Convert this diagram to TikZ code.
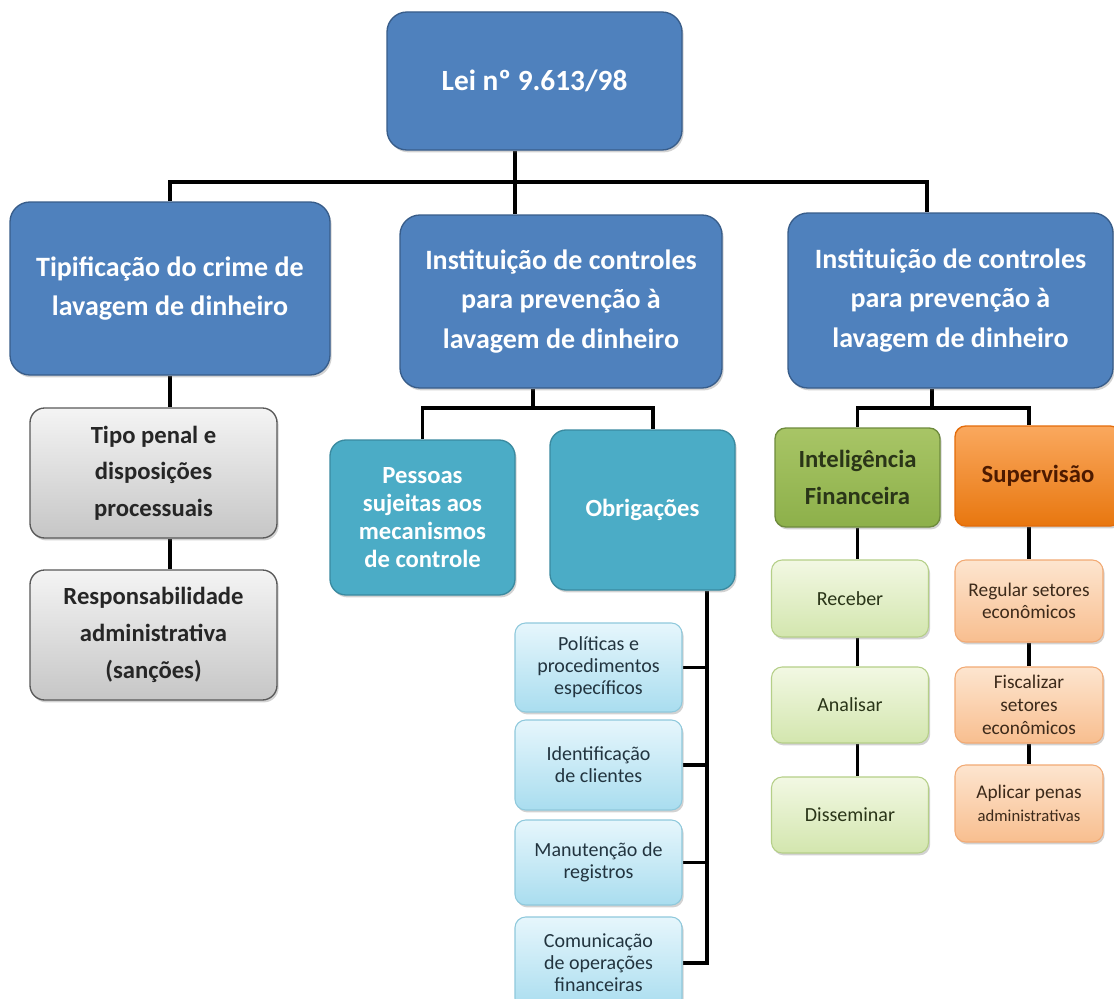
\documentclass[tikz,border=0pt]{standalone}
\usepackage{fontspec}
\setmainfont{Carlito}
\usetikzlibrary{shadows,backgrounds}
\definecolor{blueF}{HTML}{4F81BD}
\definecolor{blueD}{HTML}{385D8A}
\definecolor{tealF}{HTML}{4BACC6}
\definecolor{tealD}{HTML}{3A8AA0}
\definecolor{grayT}{HTML}{F4F4F4}
\definecolor{grayB}{HTML}{C6C6C6}
\definecolor{grayD}{HTML}{595959}
\definecolor{cyanT}{HTML}{E6F6FC}
\definecolor{cyanB}{HTML}{A9DDEF}
\definecolor{cyanD}{HTML}{8FC9DC}
\definecolor{greenT}{HTML}{A8C566}
\definecolor{greenB}{HTML}{8DB04A}
\definecolor{greenD}{HTML}{6E8B3D}
\definecolor{lgreenT}{HTML}{F2F8E3}
\definecolor{lgreenB}{HTML}{D3E6AE}
\definecolor{lgreenD}{HTML}{B5CF88}
\definecolor{orT}{HTML}{FAA85E}
\definecolor{orB}{HTML}{E8770F}
\definecolor{orD}{HTML}{E46C0A}
\definecolor{lorT}{HTML}{FDE5CF}
\definecolor{lorB}{HTML}{F8BE8F}
\definecolor{lorD}{HTML}{F2AA74}
\definecolor{txtDark}{HTML}{262626}
\definecolor{txtCyan}{HTML}{22343F}
\definecolor{txtGreen}{HTML}{2A3518}
\definecolor{txtOr}{HTML}{3D2A1A}
\definecolor{txtSup}{HTML}{4D1A00}
\tikzset{
  sz/.style 2 args={minimum width=#1*0.75pt, minimum height=#2*0.75pt},
  box/.style={align=center, inner sep=1pt,
    drop shadow={shadow xshift=1.2pt, shadow yshift=-1.8pt, opacity=0.35}},
  lawbox/.style={box, rounded corners=15pt, fill=blueF, draw=blueD, line width=1pt,
    text=white, font=\bfseries\fontsize{22}{28}\selectfont},
  mainbox/.style={box, rounded corners=15pt, fill=blueF, draw=blueD, line width=1pt,
    text=white, font=\bfseries\fontsize{21}{29.5}\selectfont},
  graybox/.style={box, rounded corners=11pt, top color=grayT, bottom color=grayB,
    draw=grayD, line width=1pt, text=txtDark, font=\bfseries\fontsize{18.5}{27.5}\selectfont},
  tealbox/.style={box, rounded corners=12pt, fill=tealF, draw=tealD, line width=1pt,
    text=white, font=\bfseries\fontsize{18.5}{21}\selectfont},
  cyanbox/.style={box, rounded corners=8pt, top color=cyanT, bottom color=cyanB,
    draw=cyanD, line width=0.8pt, text=txtCyan, font=\fontsize{15}{16.5}\selectfont},
  greenbox/.style={box, rounded corners=8pt, top color=greenT, bottom color=greenB,
    draw=greenD, line width=1pt, text=txtGreen, font=\bfseries\fontsize{18.5}{28}\selectfont},
  orangebox/.style={box, rounded corners=8pt, top color=orT, bottom color=orB,
    draw=orD, line width=1pt, text=txtSup, font=\bfseries\fontsize{18.5}{22}\selectfont},
  lgreenbox/.style={box, rounded corners=8pt, top color=lgreenT, bottom color=lgreenB,
    draw=lgreenD, line width=0.8pt, text=txtGreen, font=\fontsize{15}{17}\selectfont},
  lorangebox/.style={box, rounded corners=8pt, top color=lorT, bottom color=lorB,
    draw=lorD, line width=0.8pt, text=txtOr, font=\fontsize{14.5}{17}\selectfont},
  link/.style={line width=2.4pt, black},
}
\begin{document}
\begin{tikzpicture}[x=0.75pt, y=-0.75pt]
\useasboundingbox (0,0) rectangle (1114,999);

\node[lawbox, sz={295}{138}] (lei) at (534.5,81) {Lei nº 9.613/98};

\node[mainbox, sz={320}{173}] (tip) at (170,288.5) {Tipificação do crime de\\lavagem de dinheiro};
\node[mainbox, sz={322}{173}] (ctrlA) at (561,301.5) {Instituição de controles\\para prevenção à\\lavagem de dinheiro};
\node[mainbox, sz={325}{175}] (ctrlB) at (950.5,300.5) {Instituição de controles\\para prevenção à\\lavagem de dinheiro};

\node[graybox, sz={247}{130}] (tipo) at (153.5,473) {Tipo penal e\\disposições\\processuais};
\node[graybox, sz={247}{130}] (resp) at (153.5,635) {Responsabilidade\\administrativa\\(sanções)};

\node[tealbox, sz={185}{155}] (pess) at (422.5,517.5) {Pessoas\\sujeitas aos\\mecanismos\\de controle};
\node[tealbox, sz={185}{160}] (obr) at (642.5,510) {Obrigações};

\node[cyanbox, sz={167}{89}] (pol) at (598.5,667.5) {Políticas e\\procedimentos\\específicos};
\node[cyanbox, sz={167}{90}] (ident) at (598.5,765) {Identificação\\de clientes};
\node[cyanbox, sz={167}{85}] (manut) at (598.5,862.5) {Manutenção de\\registros};
\node[cyanbox, sz={167}{92}] (comun) at (598.5,963) {Comunicação\\de operações\\financeiras};

\node[greenbox, sz={165}{99}] (intel) at (857.5,477.5) {Inteligência\\Financeira};
\node[orangebox, sz={166}{100}] (sup) at (1038,476) {Supervisão};

\node[lgreenbox, sz={157}{77}] (rec) at (850,598.5) {Receber};
\node[lgreenbox, sz={157}{76}] (anal) at (850,705) {Analisar};
\node[lgreenbox, sz={157}{76}] (diss) at (850,815) {Disseminar};

\node[lorangebox, sz={148}{82}] (reg) at (1029,601) {Regular setores\\econômicos};
\node[lorangebox, sz={148}{76}] (fisc) at (1029,705) {Fiscalizar\\setores\\econômicos};
\node[lorangebox, sz={148}{77}] (apl) at (1029,803.5) {Aplicar penas\\{\fontsize{12.5}{15}\selectfont administrativas}};

\begin{scope}[on background layer]
  \fill[white] (0,0) rectangle (1114,999);
  \coordinate (hub) at (515,182);
  \coordinate (busR) at (927,182);
  \draw[link] (lei.south -| hub) -- (ctrlA.north -| hub);
  \draw[link] (tip.north) |- (busR) -- (busR |- ctrlB.north);

  \draw[link] (tip.south) -- (tip.south |- tipo.north);
  \draw[link] (tip.south |- tipo.south) -- (tip.south |- resp.north);

  \coordinate (busA) at (533,408);
  \coordinate (obrTop) at (653,408);
  \draw[link] (busA |- ctrlA.south) -- (busA);
  \draw[link] (pess.north) |- (obrTop) -- (obrTop |- obr.north);

  \coordinate (sp) at (707,590);
  \draw[link] (sp |- obr.south) |- (comun.east);
  \draw[link] (pol.east) -- (pol.east -| sp);
  \draw[link] (ident.east) -- (ident.east -| sp);
  \draw[link] (manut.east) -- (manut.east -| sp);

  \coordinate (busB) at (932,408);
  \draw[link] (busB |- ctrlB.south) -- (busB);
  \draw[link] (intel.north) |- (busB) -| (reg.north |- sup.north);

  \draw[link] (intel.south) -- (intel.south |- rec.north);
  \draw[link] (intel.south |- rec.south) -- (intel.south |- anal.north);
  \draw[link] (intel.south |- anal.south) -- (intel.south |- diss.north);

  \draw[link] (reg.north |- sup.south) -- (reg.north);
  \draw[link] (reg.south) -- (fisc.north);
  \draw[link] (fisc.south) -- (apl.north);
\end{scope}
\end{tikzpicture}
\end{document}
